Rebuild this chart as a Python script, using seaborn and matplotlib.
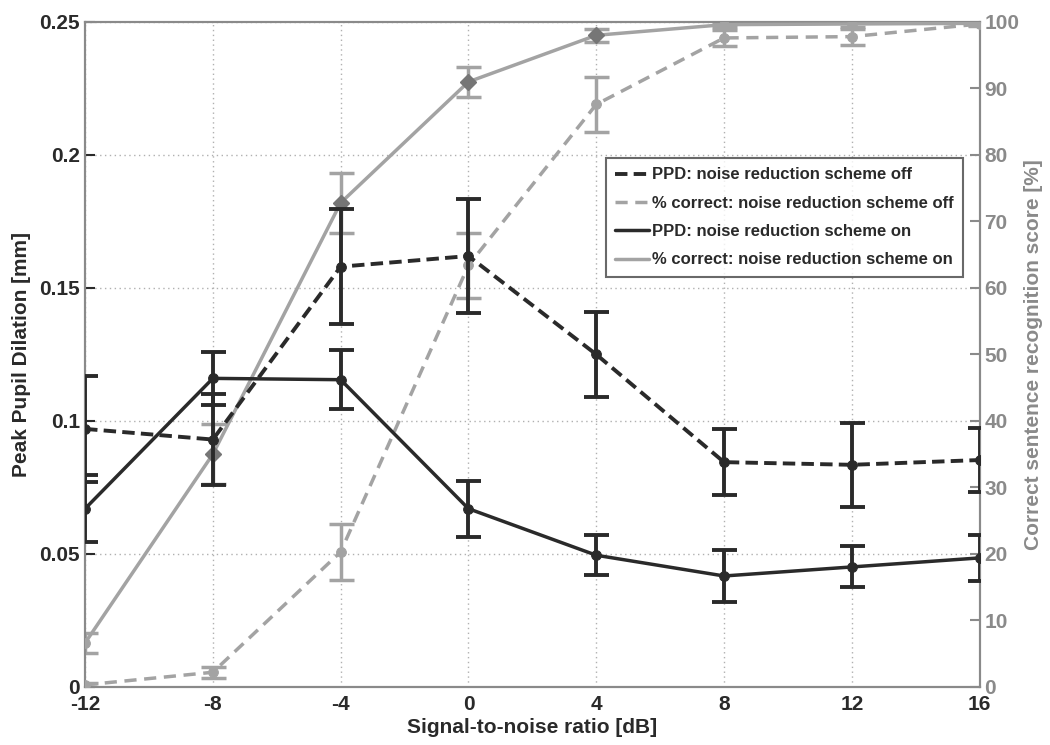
import matplotlib
matplotlib.use("Agg")
import numpy as np
import pandas as pd
import matplotlib.pyplot as plt
import seaborn as sns
from matplotlib.lines import Line2D

sns.set_style("white")
plt.rcParams['font.family'] = ['Liberation Sans', 'DejaVu Sans']
plt.rcParams['font.weight'] = 'bold'
plt.rcParams['axes.unicode_minus'] = False

# SNR levels
snr = [-12, -8, -4, 0, 4, 8, 12, 16]

# peak pupil dilation [mm], noise reduction off / on
ppd_off = [0.097, 0.093, 0.158, 0.162, 0.125, 0.0845, 0.0835, 0.0853]
ppd_off_err = [0.020, 0.017, 0.0215, 0.0215, 0.016, 0.0125, 0.0157, 0.0122]
ppd_on = [0.067, 0.116, 0.1155, 0.067, 0.0495, 0.0417, 0.0451, 0.0485]
ppd_on_err = [0.0125, 0.010, 0.011, 0.0105, 0.0075, 0.0097, 0.0077, 0.0085]

# correct sentence recognition score [%]
pc_off = [0.3, 2.2, 20.3, 63.4, 87.6, 97.6, 97.8, 99.7]
pc_off_err = [0.3, 0.8, 4.2, 4.9, 4.2, 1.2, 1.2, 0.3]
pc_on = [6.6, 35.0, 72.8, 91.0, 98.0, 99.6, 99.7, 99.8]
pc_on_err = [1.5, 4.5, 4.5, 2.3, 1.0, 0.4, 0.4, 0.2]

left_ticks = [0, 0.05, 0.1, 0.15, 0.2, 0.25]
left_labels = ["0", "0.05", "0.1", "0.15", "0.2", "0.25"]
right_ticks = list(range(0, 101, 10))

dark = "#2a2a2a"
light = "#a3a3a3"
diam = "#767676"
axcol = "#8a8a8a"

df = pd.DataFrame({"snr": snr, "ppd_off": ppd_off, "ppd_on": ppd_on,
                   "pc_off": pc_off, "pc_on": pc_on})

fig = plt.figure(figsize=(10.5, 7.45), dpi=100)
ax = fig.add_axes([0.081, 0.078, 0.852, 0.8925])
ax2 = ax.twinx()

# gray series on the right axis
ax2.errorbar(snr, pc_off, yerr=pc_off_err, fmt="none", ecolor=light, elinewidth=2.5, capsize=9, capthick=2.5, zorder=2)
ax2.errorbar(snr, pc_on, yerr=pc_on_err, fmt="none", ecolor=light, elinewidth=2.5, capsize=9, capthick=2.5, zorder=2)
sns.lineplot(data=df, x="snr", y="pc_off", ax=ax2, color=light, lw=2.5, marker="o", ms=7,
             mec=light, mfc=light, zorder=3)
ax2.lines[-1].set_dashes([3.5, 2.2])
sns.lineplot(data=df, x="snr", y="pc_on", ax=ax2, color=light, lw=2.5, marker="o", ms=7,
             mec=light, mfc=light, zorder=3)
ax2.plot(snr, pc_on, ls="none", marker="D", ms=8, mec=diam, mfc=diam,
         markevery=[1, 2, 3, 4], zorder=3)

# dark series on the left axis scale (drawn on ax2 so they sit on top)
scale = 100 / 0.25
df["ppd_off_s"] = df["ppd_off"] * scale
df["ppd_on_s"] = df["ppd_on"] * scale
ax2.errorbar(snr, df["ppd_off_s"], yerr=np.array(ppd_off_err) * scale, fmt="none",
             ecolor=dark, elinewidth=2.8, capsize=9, capthick=2.8, zorder=4)
ax2.errorbar(snr, df["ppd_on_s"], yerr=np.array(ppd_on_err) * scale, fmt="none",
             ecolor=dark, elinewidth=2.8, capsize=9, capthick=2.8, zorder=4)
sns.lineplot(data=df, x="snr", y="ppd_off_s", ax=ax2, color=dark, lw=2.8, marker="o", ms=7,
             mec=dark, mfc=dark, zorder=5)
ax2.lines[-1].set_dashes([3.2, 1.6])
sns.lineplot(data=df, x="snr", y="ppd_on_s", ax=ax2, color=dark, lw=2.5, marker="o", ms=7,
             mec=dark, mfc=dark, zorder=5)

ax.set_xlim(-12, 16)
ax.set_ylim(0, 0.25)
ax2.set_ylim(0, 100)
ax.set_xticks(snr)
ax.set_yticks(left_ticks)
ax.set_yticklabels(left_labels)
ax2.set_yticks(right_ticks)
ax.grid(True, color="#b0b0b0", ls=(0, (1, 2.5)), lw=1)
ax2.grid(False)

ax.tick_params(axis="both", direction="in", length=7, width=1.5, colors=dark, labelsize=15)
ax.tick_params(axis="x", pad=6)
ax2.tick_params(axis="y", direction="in", length=7, width=1.5, colors=axcol, labelsize=15)
for lab in ax.get_xticklabels() + ax.get_yticklabels() + ax2.get_yticklabels():
    lab.set_fontweight("bold")
for sp in list(ax.spines.values()) + list(ax2.spines.values()):
    sp.set_color(axcol)
    sp.set_linewidth(1.5)
ax.spines["bottom"].set_color("#666666")

ax.set_xlabel("Signal-to-noise ratio [dB]", fontsize=15, fontweight="bold", color=dark, labelpad=3)
ax.set_ylabel("Peak Pupil Dilation [mm]", fontsize=15, fontweight="bold", color=dark, labelpad=6)
ax2.set_ylabel("Correct sentence recognition score [%]", fontsize=15, fontweight="bold",
               color=axcol, labelpad=3)

# legend
handles = [
    Line2D([], [], color=dark, lw=2.8, dashes=[3.2, 1.6]),
    Line2D([], [], color=light, lw=2.5, dashes=[3.5, 2.2]),
    Line2D([], [], color=dark, lw=2.5),
    Line2D([], [], color=light, lw=2.5),
]
labels = ["PPD: noise reduction scheme off",
          "% correct: noise reduction scheme off",
          "PPD: noise reduction scheme on",
          "% correct: noise reduction scheme on"]
leg = ax2.legend(handles, labels, loc="upper right", bbox_to_anchor=(0.981, 0.795),
                 fontsize=12, frameon=True, fancybox=False, handlelength=2.0,
                 handletextpad=0.2, borderpad=0.55, labelspacing=0.8, borderaxespad=0)
leg.get_frame().set_edgecolor("#444444")
leg.get_frame().set_linewidth(1.5)
for t in leg.get_texts():
    t.set_fontweight("bold")
    t.set_color(dark)

fig.savefig("out.png", dpi=100)
